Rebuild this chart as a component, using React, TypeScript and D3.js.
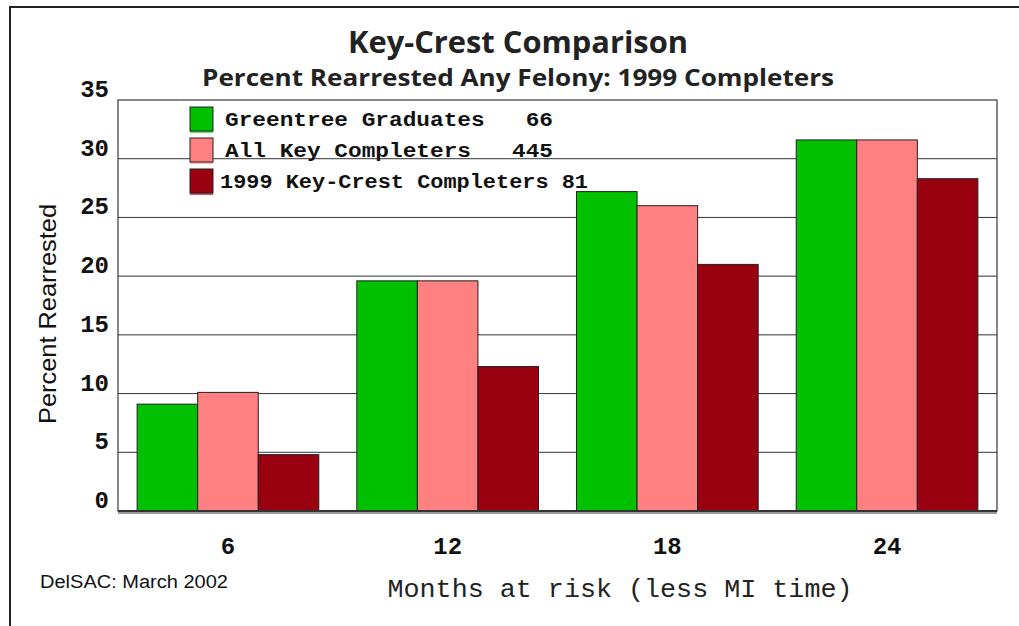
import React from 'react'
import * as d3 from 'd3'

const WIDTH = 1019
const HEIGHT = 626
const margin = { top: 100, right: 22, bottom: 115, left: 118 }

const months = ['6', '12', '18', '24']
const seriesNames = ['Greentree Graduates   66', 'All Key Completers   445', '1999 Key-Crest Completers 81']
const greentree = [9.1, 19.6, 27.2, 31.6]
const allKey = [10.1, 19.6, 26.0, 31.6]
const keyCrest = [4.8, 12.3, 21.0, 28.3]
const yTicks = [0, 5, 10, 15, 20, 25, 30, 35]
const colors = ['#00c000', '#ff8080', '#990010']
const shadows = ['#66dd66', '#ffb0b0', '#d05060']

const App = () => {
    const series = [greentree, allKey, keyCrest]
    const chartW = WIDTH - margin.left - margin.right
    const chartH = HEIGHT - margin.top - margin.bottom

    // group scale
    const x0 = d3.scaleBand().domain(months).range([0, chartW]).paddingInner(0.173).paddingOuter(0.087)
    const x1 = d3.scaleBand().domain(['0', '1', '2']).range([0, x0.bandwidth()])
    const y = d3.scaleLinear().domain([0, 35]).range([chartH, 0])

    const mono = '"Liberation Mono", "Courier New", monospace'
    const sans = '"Liberation Sans", Arial, sans-serif'

    return (
        <svg width={WIDTH} height={HEIGHT} style={{ position: 'absolute', left: 0, top: 0, background: '#fff' }}>
            <rect x={10} y={7} width={1030} height={640} fill="#fff" stroke="#222" strokeWidth={2} />

            {/* titles */}
            <text x={518} y={53} textAnchor="middle" fontFamily='"Open Sans", sans-serif' fontWeight="bold" fontSize={31} fill="#222"
                textLength={340} lengthAdjust="spacingAndGlyphs">
                Key-Crest Comparison
            </text>
            <text x={518} y={86} textAnchor="middle" fontFamily='"Open Sans", sans-serif' fontWeight="bold" fontSize={24} fill="#222"
                textLength={632} lengthAdjust="spacingAndGlyphs">
                Percent Rearrested Any Felony: 1999 Completers
            </text>

            <g transform={`translate(${margin.left},${margin.top})`}>
                <rect x={0} y={0} width={chartW} height={chartH} fill="#fff" stroke="#111" strokeWidth={1} />
                {/* grid */}
                {yTicks.slice(1, -1).map(t => (
                    <line key={t} x1={0} x2={chartW} y1={y(t)} y2={y(t)} stroke="#333" strokeWidth={1} />
                ))}
                {/* y ticks */}
                {yTicks.map(t => (
                    <text key={t} x={-9} y={y(t) - 3} textAnchor="end" fontFamily={mono} fontWeight="bold" fontSize={24} fill="#111">
                        {t}
                    </text>
                ))}
                {/* bars */}
                {months.map((m, i) => (
                    <g key={m} transform={`translate(${x0(m)},0)`}>
                        {series.map((s, j) => (
                            <rect key={j} x={x1(String(j))} y={y(s[i])} width={x1.bandwidth()} height={chartH - y(s[i]) + 2}
                                fill={colors[j]} stroke="#222" strokeWidth={1} />
                        ))}
                        <text x={x0.bandwidth() / 2} y={chartH + 43} textAnchor="middle" fontFamily={mono} fontWeight="bold" fontSize={24} fill="#111">
                            {m}
                        </text>
                    </g>
                ))}
                {/* baseline */}
                <line x1={0} x2={chartW} y1={chartH} y2={chartH} stroke="#333" strokeWidth={2} />
                <line x1={0} x2={chartW} y1={chartH + 2} y2={chartH + 2} stroke="#999" strokeWidth={2} />

                {/* legend */}
                {seriesNames.map((name, j) => (
                    <g key={name} transform={`translate(72,${7 + j * 31})`}>
                        <rect x={0} y={2} width={23} height={24} fill={shadows[j]} />
                        <rect x={0} y={0} width={23} height={24} fill={colors[j]} stroke="#222" strokeWidth={1} />
                        <text x={j === 2 ? 30 : 35} y={19} fontFamily={mono} fontWeight="bold" fontSize={20} fill="#111"
                            textLength={j === 2 ? 368 : 328} lengthAdjust="spacingAndGlyphs" xmlSpace="preserve" style={{ whiteSpace: 'pre' }}>
                            {name}
                        </text>
                    </g>
                ))}
            </g>

            {/* axis titles */}
            <text transform="translate(56,314) rotate(-90)" textAnchor="middle" fontFamily={sans} fontSize={24} fill="#111"
                textLength={220} lengthAdjust="spacingAndGlyphs">
                Percent Rearrested
            </text>
            <text x={620} y={597} textAnchor="middle" fontFamily={mono} fontSize={26} fill="#222"
                textLength={465} lengthAdjust="spacingAndGlyphs">
                Months at risk (less MI time)
            </text>
            <text x={40} y={588} fontFamily={sans} fontSize={18} fill="#111" textLength={188} lengthAdjust="spacingAndGlyphs">
                DelSAC: March 2002
            </text>
        </svg>
    )
}

export default App
